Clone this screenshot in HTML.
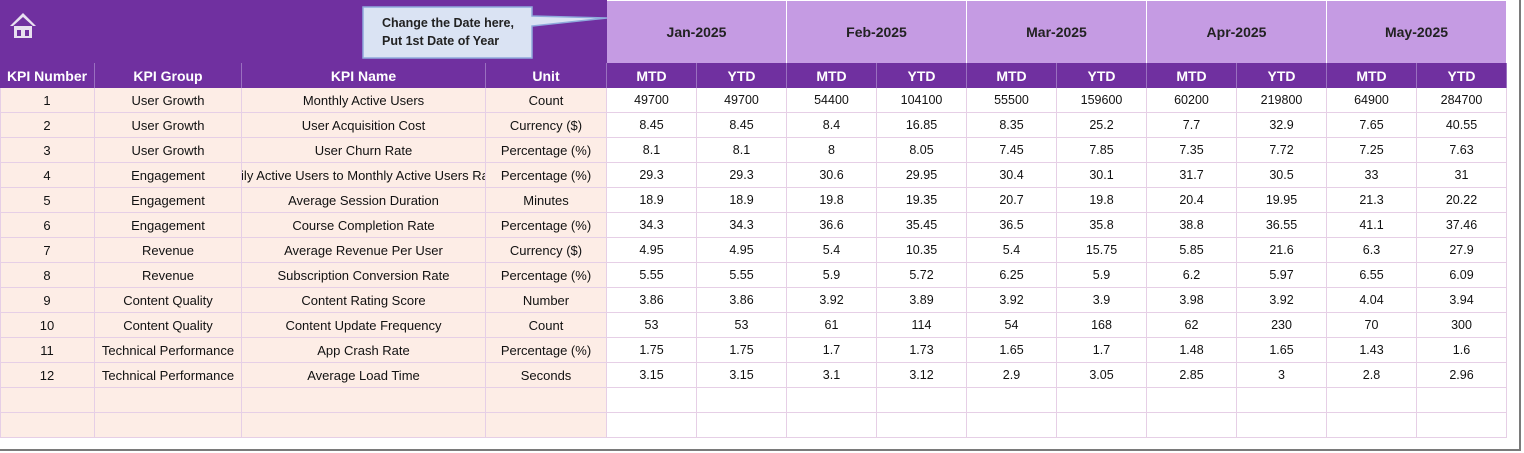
<!DOCTYPE html>
<html><head><meta charset="utf-8"><style>
body{margin:0;width:1524px;height:453px;background:#fff;position:relative;overflow:hidden;font-family:"Liberation Sans",sans-serif;}
.c{position:absolute;box-sizing:border-box;display:flex;align-items:center;justify-content:center;font-size:13px;color:#111;white-space:nowrap;overflow:hidden;}
.h{background:#7030A0;color:#fff;font-weight:bold;font-size:14px;border-right:1px solid #9a70c0;}
.m{background:#C59BE3;color:#222;font-weight:bold;font-size:14px;border-right:1px solid #fff;border-top:1px solid #fff;}
.l{background:#FDEDE6;border-right:1px solid #E6CFE6;border-bottom:1px solid #E6CFE6;}
.r{background:#fff;border-right:1px solid #E6CFE6;border-bottom:1px solid #E6CFE6;font-size:12.5px;}
</style></head><body>
<div style="position:absolute;left:0;top:0;width:1521px;height:451px;border-right:2px solid #7a7a7a;border-bottom:2px solid #7a7a7a;box-sizing:border-box"></div>
<div class="c" style="left:0;top:0;width:607px;height:63px;background:#7030A0;"></div>
<svg style="position:absolute;left:9px;top:12px" width="28" height="28" viewBox="0 0 28 28"><path d="M14 1 L1 14 L4 14 L14 5 L24 14 L27 14 Z" fill="#e8e0f0"/><rect x="5" y="14" width="18" height="12" fill="#e8e0f0"/><rect x="8" y="18" width="4" height="6" fill="#7030A0"/><rect x="16" y="18" width="4" height="6" fill="#7030A0"/></svg>
<svg style="position:absolute;left:360px;top:4px" width="250" height="58"><path d="M3 3 H172 V12 L247 14 L172 22 V54 H3 Z" fill="#DAE3F3" stroke="#8faadc" stroke-width="1.5"/></svg>
<div class="c" style="left:363px;top:8px;width:170px;height:48px;flex-direction:column;font-weight:bold;font-size:12.5px;color:#222;line-height:18px">Change the Date here,<br>Put 1st Date of Year</div>
<div id="t"></div>
<script>
let o='';const mo=['Jan-2025','Feb-2025','Mar-2025','Apr-2025','May-2025'];
mo.forEach((m,i)=>{o+=`<div class="c m" style="left:${607+i*180}px;top:0;width:180px;height:63px">${m}</div>`});
const lc=[[0,95],[95,242],[242,486],[486,607]];
['KPI Number','KPI Group','KPI Name','Unit'].forEach((t,i)=>{o+=`<div class="c h" style="left:${lc[i][0]}px;top:63px;width:${lc[i][1]-lc[i][0]}px;height:25px">${t}</div>`});
for(let i=0;i<10;i++)o+=`<div class="c h" style="left:${607+i*90}px;top:63px;width:90px;height:25px">${i%2?'YTD':'MTD'}</div>`;
const d=[
[1,'User Growth','Monthly Active Users','Count',49700,49700,54400,104100,55500,159600,60200,219800,64900,284700],
[2,'User Growth','User Acquisition Cost','Currency ($)',8.45,8.45,8.4,16.85,8.35,25.2,7.7,32.9,7.65,40.55],
[3,'User Growth','User Churn Rate','Percentage (%)',8.1,8.1,8,8.05,7.45,7.85,7.35,7.72,7.25,7.63],
[4,'Engagement','Daily Active Users to Monthly Active Users Ratio','Percentage (%)',29.3,29.3,30.6,29.95,30.4,30.1,31.7,30.5,33,31],
[5,'Engagement','Average Session Duration','Minutes',18.9,18.9,19.8,19.35,20.7,19.8,20.4,19.95,21.3,20.22],
[6,'Engagement','Course Completion Rate','Percentage (%)',34.3,34.3,36.6,35.45,36.5,35.8,38.8,36.55,41.1,37.46],
[7,'Revenue','Average Revenue Per User','Currency ($)',4.95,4.95,5.4,10.35,5.4,15.75,5.85,21.6,6.3,27.9],
[8,'Revenue','Subscription Conversion Rate','Percentage (%)',5.55,5.55,5.9,5.72,6.25,5.9,6.2,5.97,6.55,6.09],
[9,'Content Quality','Content Rating Score','Number',3.86,3.86,3.92,3.89,3.92,3.9,3.98,3.92,4.04,3.94],
[10,'Content Quality','Content Update Frequency','Count',53,53,61,114,54,168,62,230,70,300],
[11,'Technical Performance','App Crash Rate','Percentage (%)',1.75,1.75,1.7,1.73,1.65,1.7,1.48,1.65,1.43,1.6],
[12,'Technical Performance','Average Load Time','Seconds',3.15,3.15,3.1,3.12,2.9,3.05,2.85,3,2.8,2.96],
[],[]];
d.forEach((r,j)=>{const y=88+j*25;
for(let i=0;i<4;i++)o+=`<div class="c l" style="left:${lc[i][0]}px;top:${y}px;width:${lc[i][1]-lc[i][0]}px;height:25px">${r[i]??''}</div>`;
for(let i=0;i<10;i++)o+=`<div class="c r" style="left:${607+i*90}px;top:${y}px;width:90px;height:25px">${r[4+i]??''}</div>`;});
document.getElementById('t').innerHTML=o;
</script>
<div style="position:absolute;left:0;top:88px;width:1px;height:350px;background:#E6CFE6"></div>
</body></html>
